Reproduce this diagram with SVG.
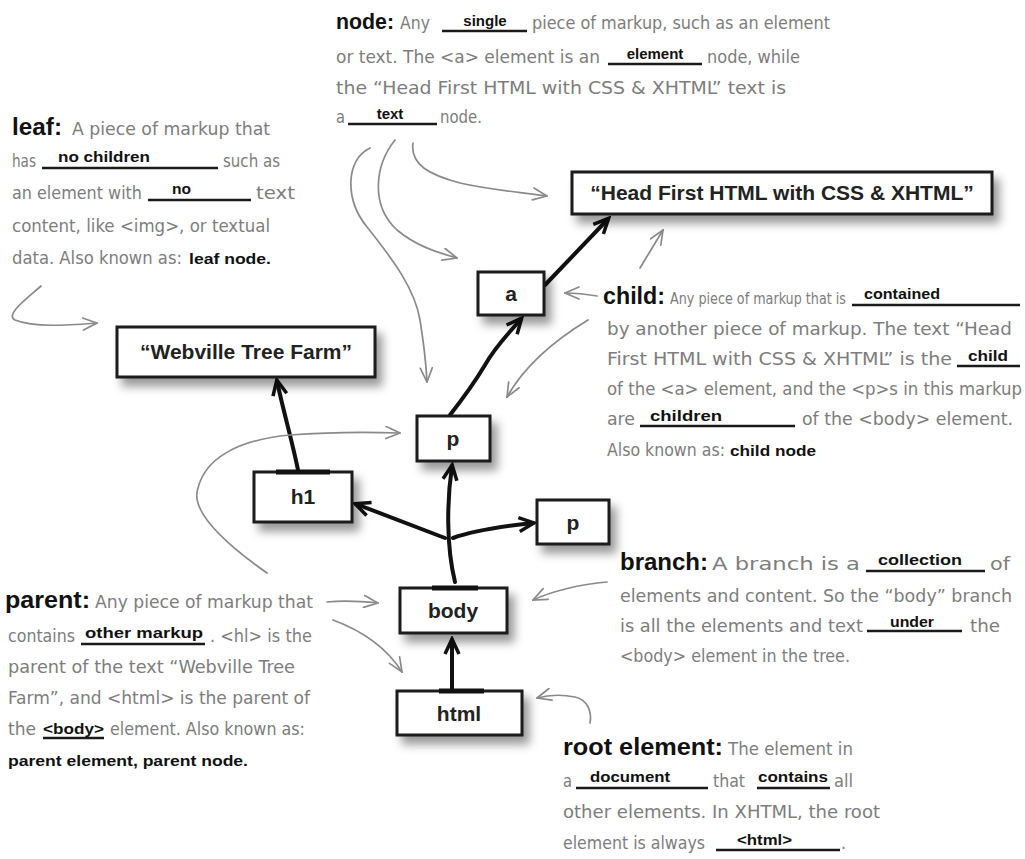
<svg xmlns="http://www.w3.org/2000/svg" width="1025" height="859" viewBox="0 0 1025 859">
<defs>
<filter id="sh" x="-20%" y="-30%" width="150%" height="180%">
<feDropShadow dx="6" dy="8" stdDeviation="5" flood-color="#000" flood-opacity="0.4"/>
</filter>
<marker id="ah" viewBox="0 0 20 20" markerUnits="userSpaceOnUse" markerWidth="20" markerHeight="20" refX="16" refY="10" orient="auto">
<path d="M2,3 L17,10 L2,17" fill="none" stroke="#111" stroke-width="3.5" stroke-linejoin="miter"/>
</marker>
<marker id="gh" viewBox="0 0 16 14" markerUnits="userSpaceOnUse" markerWidth="16" markerHeight="14" refX="15" refY="7" orient="auto">
<path d="M1,1 L15,7 L1,13" fill="none" stroke="#8a8a8a" stroke-width="1.7" stroke-linecap="round"/>
</marker>
</defs>
<style>
.box{fill:#fff;stroke:#1a1a1a;stroke-width:3}
.lbl{font-family:"Liberation Sans",Arial,sans-serif;font-weight:bold;font-size:21px;fill:#222;text-anchor:middle}
.g{font-family:"Liberation Sans Narrow","DejaVu Sans Condensed","Liberation Sans",sans-serif;font-size:18px;fill:#7d7d7d}
.s{font-size:15px}
.h{font-family:"Liberation Sans","DejaVu Sans",sans-serif;font-weight:bold;font-size:24px;fill:#111}
.k{font-family:"Liberation Sans","DejaVu Sans",sans-serif;font-weight:bold;font-size:15px;fill:#111}
.ul{stroke:#1a1a1a;stroke-width:2.5}
.bc{fill:none;stroke:#111;stroke-width:4;stroke-linecap:round;marker-end:url(#ah)}
.gc{fill:none;stroke:#8a8a8a;stroke-width:1.7;stroke-linecap:round;marker-end:url(#gh)}
</style>
<rect width="1025" height="859" fill="#fff"/>

<g id="connectors">
<path class="bc" d="M452,690 L452,640"/>
<path class="bc" d="M455,582 C446,545 447,500 452,466"/>
<path class="bc" d="M445,538 L356,504"/>
<path class="bc" d="M453,538 C475,530 505,526 533,523"/>
<path class="bc" d="M298,470 C292,440 283,410 277,381"/>
<path class="bc" d="M450,415 C468,392 476,380 485,365 C495,347 508,334 521,319"/>
<path class="bc" d="M545,285 L608,219"/>
<path class="gc" d="M370,148 C345,160 345,200 367,227 C395,262 415,290 420,320 C424,345 426,362 427,382"/>
<path class="gc" d="M395,140 C375,165 370,205 397,230 C415,245 435,252 457,258"/>
<path class="gc" d="M413,143 C410,165 430,175 460,183 C490,190 520,192 547,196"/>
<path class="gc" d="M41,286 C25,300 5,315 15,320 C35,328 70,325 97,323"/>
<path class="gc" d="M597,296 C585,294 576,293 565,293"/>
<path class="gc" d="M588,320 C555,340 525,365 507,397"/>
<path class="gc" d="M640,268 C648,255 655,243 663,230"/>
<path class="gc" d="M267,573 C220,540 190,510 198,488 C205,460 235,440 290,435 C330,432 370,432 400,433"/>
<path class="gc" d="M327,602 C345,600 360,601 378,603"/>
<path class="gc" d="M333,620 C360,630 385,645 402,672"/>
<path class="gc" d="M607,582 C580,584 550,592 533,600"/>
<path class="gc" d="M590,723 C592,712 588,700 575,697 C560,694 548,695 537,698"/>
</g>

<g id="node-headfirst">
<rect class="box" x="572" y="172" width="420" height="42" filter="url(#sh)"/>
<text class="lbl" x="782" y="200">“Head First HTML with CSS &amp; XHTML”</text>
</g>
<g id="node-a">
<rect class="box" x="478" y="272" width="66" height="43" filter="url(#sh)"/>
<text class="lbl" x="511" y="301">a</text>
</g>
<g id="node-webville">
<rect class="box" x="117" y="327" width="258" height="50" filter="url(#sh)"/>
<text class="lbl" x="246" y="359">“Webville Tree Farm”</text>
</g>
<g id="node-p1">
<rect class="box" x="417" y="416" width="73" height="45" filter="url(#sh)"/>
<text class="lbl" x="453" y="446">p</text>
</g>
<g id="node-h1">
<rect class="box" x="254" y="472" width="98" height="50" filter="url(#sh)"/>
<line x1="276" y1="472" x2="330" y2="472" stroke="#111" stroke-width="5"/>
<text class="lbl" x="303" y="504">h1</text>
</g>
<g id="node-p2">
<rect class="box" x="537" y="500" width="72" height="44" filter="url(#sh)"/>
<text class="lbl" x="573" y="530">p</text>
</g>
<g id="node-body">
<rect class="box" x="400" y="588" width="107" height="45" filter="url(#sh)"/>
<line x1="432" y1="588" x2="478" y2="588" stroke="#111" stroke-width="5"/>
<text class="lbl" x="453" y="618">body</text>
</g>
<g id="node-html">
<rect class="box" x="397" y="691" width="125" height="44" filter="url(#sh)"/>
<line x1="439" y1="691" x2="484" y2="691" stroke="#111" stroke-width="5"/>
<text class="lbl" x="459" y="721">html</text>
</g>

<g id="note-node">
<text class="h" x="336" y="29" style="font-size:22px" textLength="58" lengthAdjust="spacingAndGlyphs">node:</text>
<text class="g" x="400" y="29" textLength="30" lengthAdjust="spacingAndGlyphs">Any</text>
<line class="ul" x1="442" y1="31" x2="527" y2="31"/>
<text class="k" x="485" y="26" text-anchor="middle">single</text>
<text class="g" x="532" y="29" textLength="298" lengthAdjust="spacingAndGlyphs">piece of markup, such as an element</text>
<text class="g" x="336" y="63" textLength="264" lengthAdjust="spacingAndGlyphs">or text. The &lt;a&gt; element is an</text>
<line class="ul" x1="608" y1="64" x2="702" y2="64"/>
<text class="k" x="655" y="59" text-anchor="middle">element</text>
<text class="g" x="707" y="63" textLength="93" lengthAdjust="spacingAndGlyphs">node, while</text>
<text class="g" x="336" y="94" textLength="450" lengthAdjust="spacingAndGlyphs">the “Head First HTML with CSS &amp; XHTML” text is</text>
<text class="g" x="336" y="123" textLength="9" lengthAdjust="spacingAndGlyphs">a</text>
<line class="ul" x1="348" y1="124" x2="437" y2="124"/>
<text class="k" x="390" y="119" text-anchor="middle">text</text>
<text class="g" x="440" y="123" textLength="42" lengthAdjust="spacingAndGlyphs">node.</text>
</g>

<g id="note-leaf">
<text class="h" x="12" y="135" textLength="50" lengthAdjust="spacingAndGlyphs">leaf:</text>
<text class="g" x="72" y="135" textLength="198" lengthAdjust="spacingAndGlyphs">A piece of markup that</text>
<text class="g" x="12" y="167" textLength="24" lengthAdjust="spacingAndGlyphs">has</text>
<line class="ul" x1="42" y1="168" x2="218" y2="168"/>
<text class="k" x="58" y="162" textLength="92" lengthAdjust="spacingAndGlyphs">no children</text>
<text class="g" x="223" y="167" textLength="57" lengthAdjust="spacingAndGlyphs">such as</text>
<text class="g" x="12" y="199" textLength="130" lengthAdjust="spacingAndGlyphs">an element with</text>
<line class="ul" x1="148" y1="200" x2="251" y2="200"/>
<text class="k" x="172" y="194" textLength="19" lengthAdjust="spacingAndGlyphs">no</text>
<text class="g" x="256" y="199" textLength="39" lengthAdjust="spacingAndGlyphs">text</text>
<text class="g" x="12" y="232" textLength="258" lengthAdjust="spacingAndGlyphs">content, like &lt;img&gt;, or textual</text>
<text class="g" x="12" y="264" textLength="170" lengthAdjust="spacingAndGlyphs">data. Also known as:</text>
<text class="k" x="189" y="264" textLength="82" lengthAdjust="spacingAndGlyphs">leaf node.</text>
</g>

<g id="note-child">
<text class="h" x="603" y="304" textLength="62" lengthAdjust="spacingAndGlyphs">child:</text>
<text class="g s" x="670" y="304" textLength="176" lengthAdjust="spacingAndGlyphs">Any piece of markup that is</text>
<line class="ul" x1="852" y1="305" x2="1020" y2="305"/>
<text class="k" x="864" y="299" textLength="76" lengthAdjust="spacingAndGlyphs">contained</text>
<text class="g" x="607" y="335" textLength="405" lengthAdjust="spacingAndGlyphs">by another piece of markup. The text “Head</text>
<text class="g" x="607" y="365" textLength="345" lengthAdjust="spacingAndGlyphs">First HTML with CSS &amp; XHTML” is the</text>
<line class="ul" x1="957" y1="366" x2="1020" y2="366"/>
<text class="k" x="968" y="361" textLength="40" lengthAdjust="spacingAndGlyphs">child</text>
<text class="g" x="607" y="395" textLength="415" lengthAdjust="spacingAndGlyphs">of the &lt;a&gt; element, and the &lt;p&gt;s in this markup</text>
<text class="g" x="607" y="425" textLength="28" lengthAdjust="spacingAndGlyphs">are</text>
<line class="ul" x1="640" y1="426" x2="795" y2="426"/>
<text class="k" x="650" y="421" textLength="72" lengthAdjust="spacingAndGlyphs">children</text>
<text class="g" x="802" y="425" textLength="211" lengthAdjust="spacingAndGlyphs">of the &lt;body&gt; element.</text>
<text class="g" x="607" y="456" textLength="118" lengthAdjust="spacingAndGlyphs">Also known as:</text>
<text class="k" x="730" y="456" textLength="86" lengthAdjust="spacingAndGlyphs">child node</text>
</g>

<g id="note-branch">
<text class="h" x="620" y="570" textLength="88" lengthAdjust="spacingAndGlyphs">branch:</text>
<text class="g" x="712" y="570" textLength="148" lengthAdjust="spacingAndGlyphs">A branch is a</text>
<line class="ul" x1="866" y1="571" x2="985" y2="571"/>
<text class="k" x="878" y="565" textLength="84" lengthAdjust="spacingAndGlyphs">collection</text>
<text class="g" x="990" y="570" textLength="20" lengthAdjust="spacingAndGlyphs">of</text>
<text class="g" x="620" y="602" textLength="392" lengthAdjust="spacingAndGlyphs">elements and content. So the “body” branch</text>
<text class="g" x="620" y="632" textLength="243" lengthAdjust="spacingAndGlyphs">is all the elements and text</text>
<line class="ul" x1="867" y1="631" x2="962" y2="631" stroke="#777"/>
<text class="k" x="890" y="627" textLength="44" lengthAdjust="spacingAndGlyphs">under</text>
<text class="g" x="970" y="632" textLength="30" lengthAdjust="spacingAndGlyphs">the</text>
<text class="g" x="620" y="662" textLength="230" lengthAdjust="spacingAndGlyphs">&lt;body&gt; element in the tree.</text>
</g>

<g id="note-parent">
<text class="h" x="5" y="608" textLength="85" lengthAdjust="spacingAndGlyphs">parent:</text>
<text class="g" x="95" y="608" textLength="218" lengthAdjust="spacingAndGlyphs">Any piece of markup that</text>
<text class="g" x="8" y="642" textLength="67" lengthAdjust="spacingAndGlyphs">contains</text>
<line class="ul" x1="81" y1="644" x2="205" y2="644"/>
<text class="k" x="85" y="638" textLength="118" lengthAdjust="spacingAndGlyphs">other markup</text>
<text class="g" x="210" y="642" textLength="102" lengthAdjust="spacingAndGlyphs">. &lt;hl&gt; is the</text>
<text class="g" x="8" y="673" textLength="287" lengthAdjust="spacingAndGlyphs">parent of the text “Webville Tree</text>
<text class="g" x="8" y="704" textLength="302" lengthAdjust="spacingAndGlyphs">Farm”, and &lt;html&gt; is the parent of</text>
<text class="g" x="8" y="735" textLength="28" lengthAdjust="spacingAndGlyphs">the</text>
<text class="k" x="43" y="734" textLength="61" lengthAdjust="spacingAndGlyphs">&lt;body&gt;</text>
<line class="ul" x1="43" y1="738" x2="104" y2="738"/>
<text class="g" x="110" y="735" textLength="195" lengthAdjust="spacingAndGlyphs">element. Also known as:</text>
<text class="k" x="8" y="766" textLength="240" lengthAdjust="spacingAndGlyphs">parent element, parent node.</text>
</g>

<g id="note-root">
<text class="h" x="563" y="755" textLength="160" lengthAdjust="spacingAndGlyphs">root element:</text>
<text class="g" x="728" y="755" textLength="125" lengthAdjust="spacingAndGlyphs">The element in</text>
<text class="g" x="563" y="787" textLength="9" lengthAdjust="spacingAndGlyphs">a</text>
<line class="ul" x1="576" y1="788" x2="708" y2="788"/>
<text class="k" x="590" y="782" textLength="80" lengthAdjust="spacingAndGlyphs">document</text>
<text class="g" x="713" y="787" textLength="32" lengthAdjust="spacingAndGlyphs">that</text>
<line class="ul" x1="757" y1="788" x2="830" y2="788"/>
<text class="k" x="758" y="782" textLength="70" lengthAdjust="spacingAndGlyphs">contains</text>
<text class="g" x="834" y="787" textLength="19" lengthAdjust="spacingAndGlyphs">all</text>
<text class="g" x="563" y="818" textLength="317" lengthAdjust="spacingAndGlyphs">other elements. In XHTML, the root</text>
<text class="g" x="563" y="849" textLength="142" lengthAdjust="spacingAndGlyphs">element is always</text>
<line class="ul" x1="716" y1="850" x2="840" y2="850"/>
<text class="k" x="737" y="845" textLength="55" lengthAdjust="spacingAndGlyphs">&lt;html&gt;</text>
<text class="g" x="841" y="849">.</text>
</g>
</svg>
